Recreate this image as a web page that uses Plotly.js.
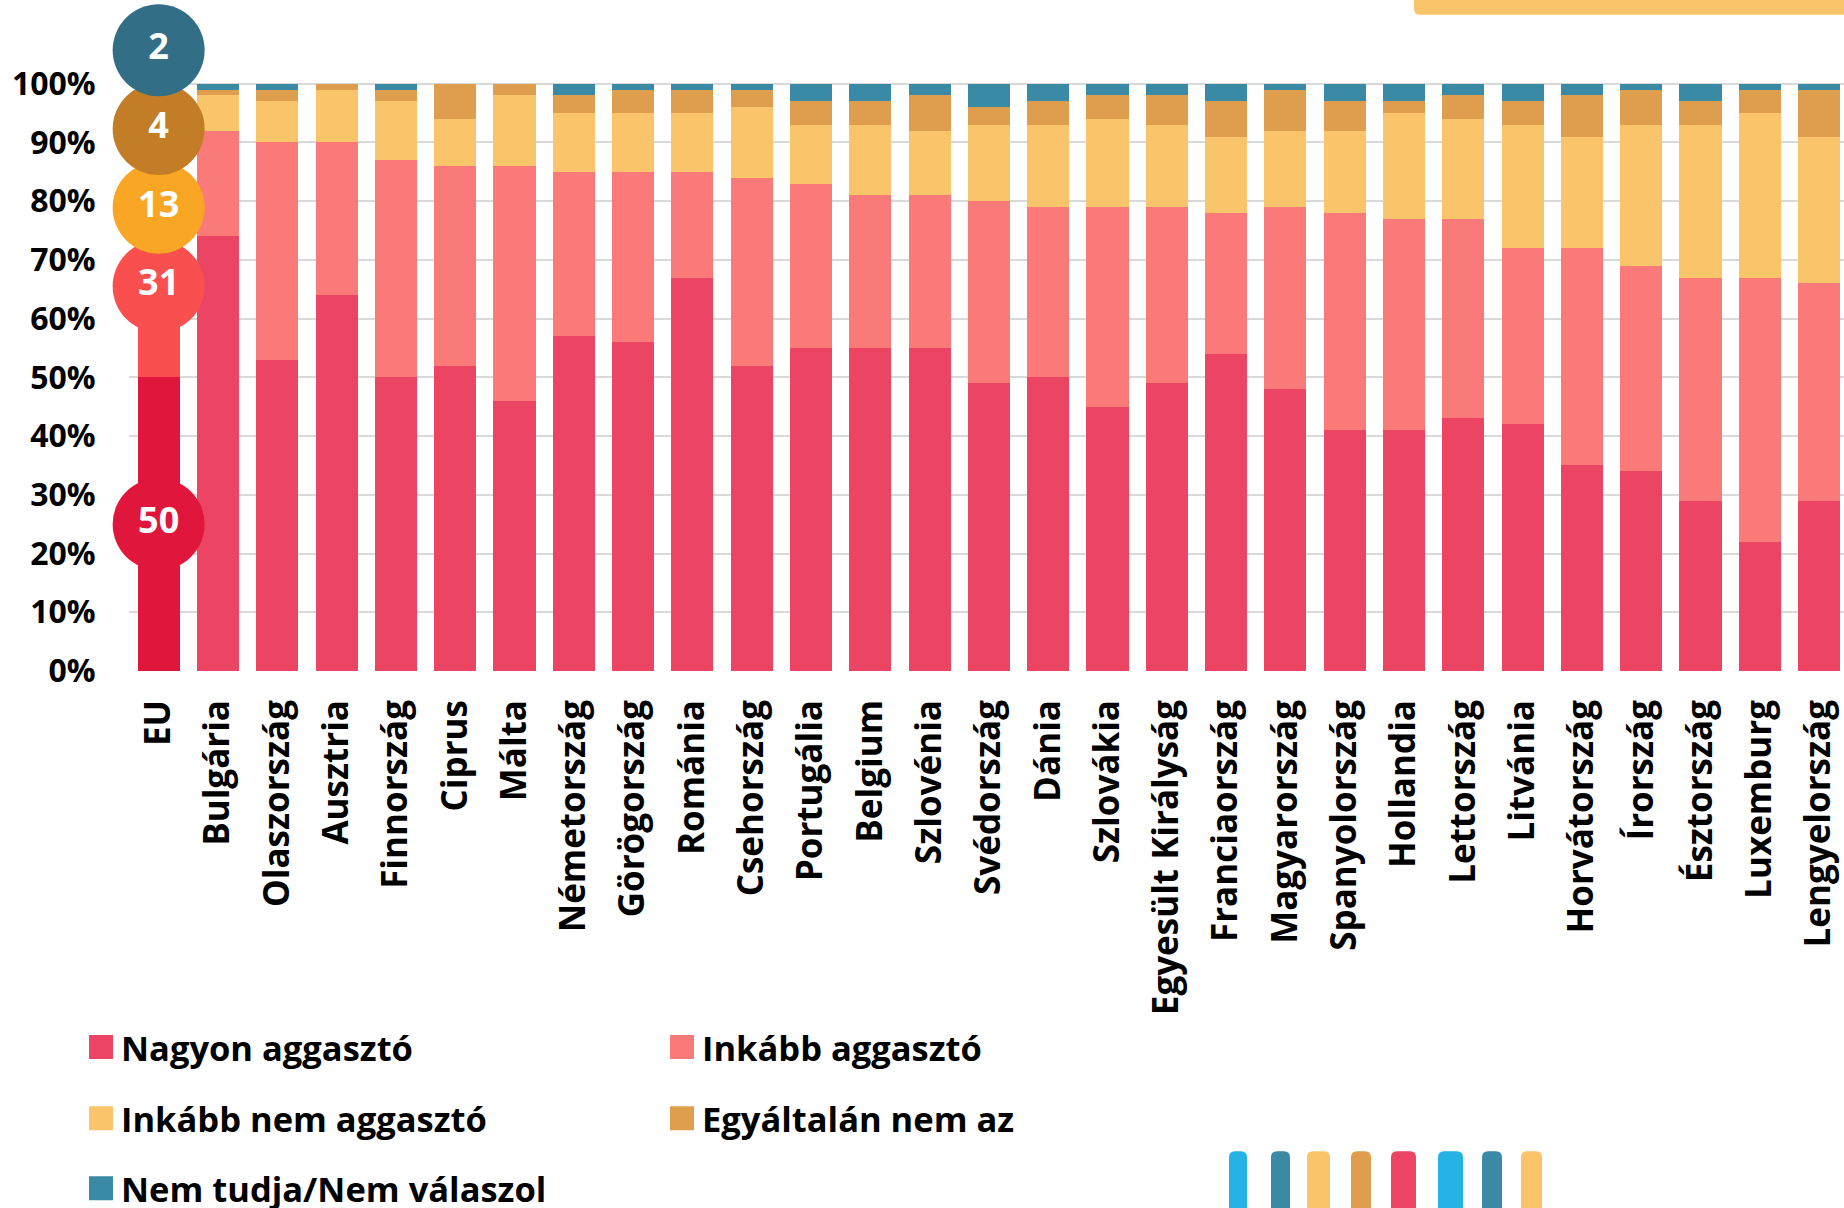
<!DOCTYPE html>
<html>
<head>
<meta charset="utf-8">
<script src="https://cdn.plot.ly/plotly-3.0.1.min.js"></script>
<style>html,body{margin:0;padding:0;background:#fff;}#chart{width:1844px;height:1208px;}</style>
</head>
<body>
<div id="chart"></div>
<script>
// ---- data ----
const categories = ['EU','Bulgária','Olaszország','Ausztria','Finnország','Ciprus','Málta','Németország','Görögország','Románia','Csehország','Portugália','Belgium','Szlovénia','Svédország','Dánia','Szlovákia','Egyesült Királyság','Franciaország','Magyarország','Spanyolország','Hollandia','Lettország','Litvánia','Horvátország','Írország','Észtország','Luxemburg','Lengyelország'];
const seriesNames = ['Nagyon aggasztó','Inkább aggasztó','Inkább nem aggasztó','Egyáltalán nem az','Nem tudja/Nem válaszol'];
const nagyon     = [50,74,53,64,50,52,46,57,56,67,52,55,55,55,49,50,45,49,54,48,41,41,43,42,35,34,29,22,29];
const inkabb     = [31,18,37,26,37,34,40,28,29,18,32,28,26,26,31,29,34,30,24,31,37,36,34,30,37,35,38,45,37];
const inkabbNem  = [13, 6, 7, 9,10, 8,12,10,10,10,12,10,12,11,13,14,15,14,13,13,14,18,17,21,19,24,26,28,25];
const egyaltalan = [ 4, 1, 2, 1, 2, 6, 2, 3, 4, 4, 3, 4, 4, 6, 3, 4, 4, 5, 6, 7, 5, 2, 4, 4, 7, 6, 4, 4, 8];
const nemTudja   = [ 2, 1, 1, 0, 1, 0, 0, 2, 1, 1, 1, 3, 3, 2, 4, 3, 2, 2, 3, 1, 3, 3, 2, 3, 2, 1, 3, 1, 1];
const yTickLabels = ['0%','10%','20%','30%','40%','50%','60%','70%','80%','90%','100%'];

// ---- styles ----
const seriesColors = ['#EC4564','#FA7A7A','#FAC46B','#DE9E4E','#3A89A5'];
const euColors     = ['#E0163C','#F94F4F','#F8A623','#C47D27','#326F87'];
const FONT = 'Open Sans, Noto Sans, sans-serif';

const W = 1844, H = 1208;
const ML = 129;
const Y_BOTTOM = 671;          // pixel row of 0%
const PX_PER_PCT = 5.87;
const Y_MAX = 110;             // headroom above 100% for the EU label circles
const PLOT_H = Y_MAX * PX_PER_PCT;
const MT = Y_BOTTOM - PLOT_H;
const PLOT_W = W - ML;
const PITCH = 59.3;

const seriesValues = [nagyon, inkabb, inkabbNem, egyaltalan, nemTudja];
const legendIds = ['legend','legend','legend2','legend2','legend3'];
const countries = categories.slice(1);

const traces = [];
// EU bar (own colours, no legend entry)
seriesValues.forEach((vals, s) => {
  traces.push({
    type: 'bar', name: seriesNames[s],
    x: [categories[0]], y: [vals[0]],
    marker: {color: euColors[s], line: {width: 0}},
    showlegend: false, legend: legendIds[s],
    hoverinfo: 'x+y+name'
  });
});
// member states
seriesValues.forEach((vals, s) => {
  traces.push({
    type: 'bar', name: seriesNames[s],
    x: countries, y: vals.slice(1),
    marker: {color: seriesColors[s], line: {width: 0}},
    legend: legendIds[s],
    hoverinfo: 'x+y+name'
  });
});

// EU labels in circles: first two at segment midpoints, the rest stacked above
const euVals = seriesValues.map(v => v[0]);
const labelGap = 13.4;
const labelY = [];
let cum = 0;
euVals.forEach((v, i) => {
  const mid = cum + v / 2;
  if (i < 2) labelY.push(mid);
  else labelY.push(labelY[i - 1] + labelGap);
  cum += v;
});
traces.push({
  type: 'scatter',
  mode: 'markers+text',
  x: euVals.map(() => categories[0]),
  y: labelY,
  text: euVals.map(String),
  textposition: 'middle center',
  textfont: {family: FONT, size: 36, color: '#ffffff', weight: 'bold'},
  marker: {size: 92, color: euColors, line: {width: 0}},
  cliponaxis: false,
  showlegend: false,
  hoverinfo: 'skip'
});

// pixel -> paper helpers for decorative shapes
const px = x => (x - ML) / PLOT_W;
const py = y => (Y_BOTTOM - y) / PLOT_H;

function roundTopRect(x0, x1, y0, y1, r, color) {
  const path = `M ${px(x0)} ${py(y1)} L ${px(x0)} ${py(y0 + r)} Q ${px(x0)} ${py(y0)} ${px(x0 + r)} ${py(y0)} L ${px(x1 - r)} ${py(y0)} Q ${px(x1)} ${py(y0)} ${px(x1)} ${py(y0 + r)} L ${px(x1)} ${py(y1)} Z`;
  return {type: 'path', xref: 'paper', yref: 'paper', path: path, fillcolor: color, line: {width: 0}, layer: 'above'};
}

const shapes = [];
shapes.push({type: 'path', xref: 'paper', yref: 'paper',
  path: `M ${px(1414)} ${py(-2)} L ${px(1414)} ${py(9)} Q ${px(1414)} ${py(15)} ${px(1420)} ${py(15)} L ${px(1850)} ${py(15)} L ${px(1850)} ${py(-2)} Z`,
  fillcolor: '#FAC46B', line: {width: 0}});
const deco = [[1229,1247,'#25B3E5'],[1271,1290,'#3A89A5'],[1307,1330,'#FAC46B'],[1351,1371,'#DE9E4E'],
              [1391,1416,'#EC4564'],[1438,1463,'#25B3E5'],[1482,1502,'#3A89A5'],[1521,1542,'#FAC46B']];
deco.forEach(d => shapes.push(roundTopRect(d[0], d[1], 1151, 1215, 6, d[2])));

const legendBase = {
  orientation: 'h', xanchor: 'left', yanchor: 'middle',
  bgcolor: 'rgba(0,0,0,0)', borderwidth: 0,
  font: {family: FONT, size: 34.5, color: '#000000', weight: 'bold'},
  entrywidth: 536, entrywidthmode: 'pixels', traceorder: 'normal'
};

const layout = {
  width: W, height: H,
  paper_bgcolor: '#ffffff', plot_bgcolor: '#ffffff',
  margin: {l: ML, r: 0, t: MT, b: H - Y_BOTTOM, pad: 0, autoexpand: false},
  barmode: 'stack',
  bargap: 0.29,
  showlegend: true,
  font: {family: FONT, color: '#000000'},
  xaxis: {
    type: 'category',
    categoryorder: 'array', categoryarray: categories,
    range: [-0.5, -0.5 + PLOT_W / PITCH],
    tickangle: -90,
    ticks: 'outside', ticklen: 14, tickcolor: 'rgba(0,0,0,0)',
    tickfont: {family: FONT, size: 35, color: '#000000', weight: 'bold'},
    showgrid: false, showline: false, zeroline: false,
    automargin: false, fixedrange: true
  },
  yaxis: {
    range: [0, Y_MAX],
    tickmode: 'array',
    tickvals: yTickLabels.map((t, i) => i * 10),
    ticktext: yTickLabels,
    ticks: 'outside', ticklen: 26, tickcolor: 'rgba(0,0,0,0)',
    tickfont: {family: FONT, size: 32, color: '#000000', weight: 'bold'},
    showgrid: true, gridcolor: '#D9D9D9', gridwidth: 2,
    zeroline: false, showline: false,
    automargin: false, fixedrange: true
  },
  legend:  Object.assign({}, legendBase, {x: px(81), y: py(1047)}),
  legend2: Object.assign({}, legendBase, {x: px(81), y: py(1118)}),
  legend3: Object.assign({}, legendBase, {x: px(81), y: py(1188)}),
  shapes: shapes
};

Plotly.newPlot('chart', traces, layout, {displayModeBar: false, staticPlot: true}).then(gd => {
  // enlarge the legend swatches to the reference's square size
  gd.querySelectorAll('g.legendpoints path').forEach(p => {
    p.setAttribute('d', 'M12,12H-12V-12H12Z');
  });
});
</script>
</body>
</html>
